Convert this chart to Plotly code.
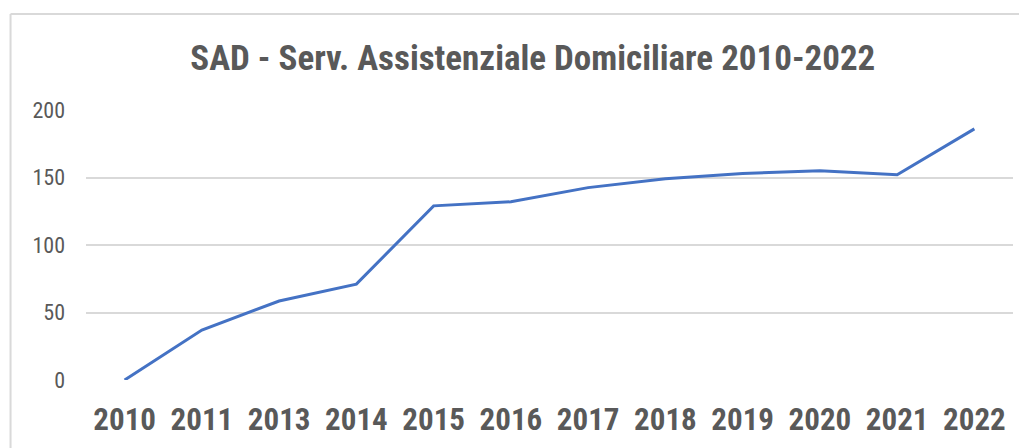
import plotly.graph_objects as go

years = ["2010", "2011", "2013", "2014", "2015", "2016", "2017", "2018", "2019", "2020", "2021", "2022"]
values = [0, 37, 58.5, 71, 129, 132, 142.5, 149, 153, 155, 152, 186]
y_ticks = [0, 50, 100, 150, 200]
title_text = "SAD - Serv. Assistenziale Domiciliare 2010-2022"

NARROW = "Liberation Sans Narrow, Arial Narrow, Roboto Condensed, Liberation Sans, sans-serif"
GRAY = "#595959"

fig = go.Figure()
fig.add_trace(go.Scatter(
    x=years, y=values, mode="lines",
    line=dict(color="#4472C4", width=3),
    hoverinfo="x+y", showlegend=False,
))

fig.update_layout(
    width=1019, height=440,
    margin=dict(l=78, r=14, t=102, b=68, autoexpand=False),
    paper_bgcolor="white", plot_bgcolor="white",
    title=dict(text=title_text, x=0.515, xanchor="center", y=0.886, yanchor="middle",
               font=dict(family=NARROW, size=35, color=GRAY, weight="bold")),
    xaxis=dict(type="category", range=[-0.5, len(years) - 0.5], automargin=False,
               showgrid=False, zeroline=False, showline=False,
               ticks="", ticklabelstandoff=18,
               tickfont=dict(family=NARROW, size=31, color=GRAY, weight="bold")),
    yaxis=dict(range=[0, 200], tickvals=y_ticks, automargin=False, showgrid=True,
               gridcolor="#d9d9d9", gridwidth=1.5, zeroline=False, showline=False,
               ticks="", ticklabelstandoff=20,
               tickfont=dict(family=NARROW, size=22, color=GRAY)),
    shapes=[
        dict(type="line", xref="paper", yref="paper", x0=-0.0814, x1=-0.0814,
             y0=1.356, y1=-0.4, line=dict(color="#d9d9d9", width=2)),
        dict(type="line", xref="paper", yref="paper", x0=-0.0814, x1=1.02,
             y0=1.356, y1=1.356, line=dict(color="#d9d9d9", width=2)),
    ],
)

fig.write_html("out.html")
